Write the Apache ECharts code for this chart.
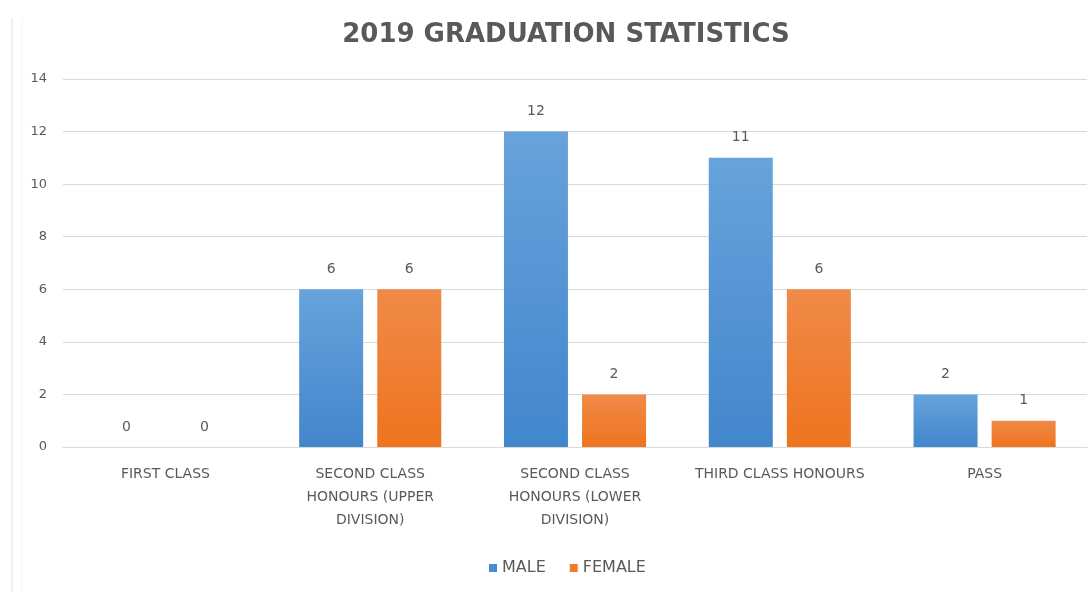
<!DOCTYPE html>
<html>
<head>
<meta charset="utf-8">
<script src="https://cdn.jsdelivr.net/npm/echarts@6/dist/echarts.min.js"></script>
<style>
  html, body { margin: 0; padding: 0; background: #ffffff; }
  #chart { width: 1090px; height: 592px; }
</style>
</head>
<body>
<div id="chart"></div>
<script>
// Graduation classes (wrapped the way they are shown under the axis)
const categories = [
  'FIRST CLASS',
  'SECOND CLASS\nHONOURS (UPPER\nDIVISION)',
  'SECOND CLASS\nHONOURS (LOWER\nDIVISION)',
  'THIRD CLASS HONOURS',
  'PASS'
];
const maleCounts = [0, 6, 12, 11, 2];
const femaleCounts = [0, 6, 2, 6, 1];
const yTicks = { min: 0, max: 14, interval: 2 };

const textGray = '#595959';
const font = '"DejaVu Sans", sans-serif';

function barGradient(top, bottom) {
  return new echarts.graphic.LinearGradient(0, 0, 0, 1, [
    { offset: 0, color: top },
    { offset: 1, color: bottom }
  ]);
}

const chart = echarts.init(document.getElementById('chart'));
chart.setOption({
  backgroundColor: '#ffffff',
  animation: false,
  title: {
    text: '2019 GRADUATION STATISTICS',
    left: 561,
    textAlign: 'center',
    top: 17,
    textStyle: { color: textGray, fontSize: 26, fontWeight: 'bold', fontFamily: font }
  },
  graphic: [
    {
      type: 'line',
      shape: { x1: 12, y1: 18, x2: 12, y2: 592 },
      style: { stroke: '#e2e2e2', lineWidth: 1 }
    },
    {
      type: 'line',
      shape: { x1: 22, y1: 18, x2: 22, y2: 592 },
      style: { stroke: '#f4f4f4', lineWidth: 1 }
    }
  ],
  legend: {
    top: 555,
    left: 484,
    itemWidth: 8,
    itemHeight: 8,
    itemGap: 24,
    icon: 'rect',
    textStyle: { color: textGray, fontSize: 16, fontFamily: font },
    data: [
      { name: 'MALE', itemStyle: { color: '#4a8acf' } },
      { name: 'FEMALE', itemStyle: { color: '#ee7b2c' } }
    ]
  },
  grid: { left: 63, right: 3, top: 79, bottom: 145, containLabel: false },
  xAxis: {
    type: 'category',
    data: categories,
    axisLine: { show: true, lineStyle: { color: '#d9d9d9' } },
    axisTick: { show: false },
    axisLabel: {
      color: textGray, fontSize: 14, fontFamily: font,
      lineHeight: 23, margin: 16, interval: 0
    }
  },
  yAxis: {
    type: 'value',
    min: yTicks.min,
    max: yTicks.max,
    interval: yTicks.interval,
    axisLine: { show: false },
    axisTick: { show: false },
    axisLabel: { color: textGray, fontSize: 13, fontFamily: font, margin: 16 },
    splitLine: { lineStyle: { color: '#d9d9d9' } }
  },
  series: [
    {
      name: 'MALE',
      type: 'bar',
      data: maleCounts,
      barWidth: 64,
      barGap: '22%',
      itemStyle: { color: barGradient('#67a3dc', '#4286cc') },
      label: {
        show: true, position: 'top', distance: 13,
        color: textGray, fontSize: 14, fontFamily: font
      }
    },
    {
      name: 'FEMALE',
      type: 'bar',
      data: femaleCounts,
      barWidth: 64,
      itemStyle: { color: barGradient('#f08a48', '#ee741f') },
      label: {
        show: true, position: 'top', distance: 13,
        color: textGray, fontSize: 14, fontFamily: font
      }
    }
  ]
});
</script>
</body>
</html>
